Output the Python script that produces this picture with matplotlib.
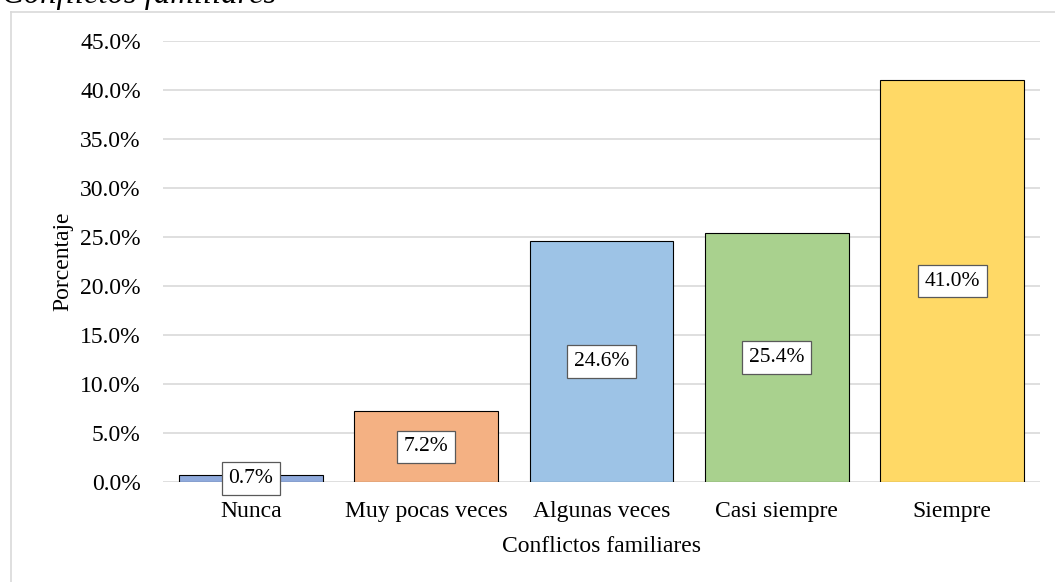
import matplotlib.pyplot as plt
from matplotlib.lines import Line2D

categorias = ['Nunca', 'Muy pocas veces', 'Algunas veces', 'Casi siempre', 'Siempre']
porcentajes = [0.7, 7.2, 24.6, 25.4, 41.0]
colores = ['#8FAADC', '#F4B183', '#9DC3E6', '#A9D18E', '#FFD966']
yticks = [0, 5, 10, 15, 20, 25, 30, 35, 40, 45]

plt.rcParams['font.family'] = ['Liberation Serif', 'DejaVu Serif']

fig = plt.figure(figsize=(10.55, 5.82), dpi=100)
ax = fig.add_axes([163/1055, 1 - 482/582, (1040 - 163)/1055, (482 - 41)/582])

x = range(len(categorias))
bars = ax.bar(x, porcentajes, width=0.82, color=colores, edgecolor='black',
              linewidth=0.8, zorder=3)

# etiquetas de datos en caja blanca
for b, v in zip(bars, porcentajes):
    ax.text(b.get_x() + b.get_width()/2, v/2, f'{v:.1f}%', ha='center', va='center',
            fontsize=15.5, zorder=4,
            bbox=dict(boxstyle='square,pad=0.31', facecolor='white',
                      edgecolor='#595959', linewidth=0.9))

ax.set_xlim(-0.5, len(categorias) - 0.5)
ax.set_ylim(0, 45)
ax.set_yticks(yticks)
ax.set_yticklabels([f'{t:.1f}%' for t in yticks])
ax.set_xticks(list(x))
ax.set_xticklabels(categorias)
ax.tick_params(axis='both', length=0, labelsize=17)
ax.tick_params(axis='y', pad=16)
ax.tick_params(axis='x', pad=13.5)
ax.grid(axis='y', color='#D9D9D9', linewidth=1.2, zorder=0)
for s in ax.spines.values():
    s.set_visible(False)

ax.set_xlabel('Conflictos familiares', fontsize=17, labelpad=10)
ax.set_ylabel('Porcentaje', fontsize=17, labelpad=5)

# marco del grafico (recortado)
fig.add_artist(Line2D([11/1055, 11/1055], [0, 1 - 12/582], color='#D9D9D9',
                      linewidth=1.2, transform=fig.transFigure))
fig.add_artist(Line2D([11/1055, 1], [1 - 12/582, 1 - 12/582], color='#D9D9D9',
                      linewidth=1.2, transform=fig.transFigure))

# titulo cortado arriba
fig.text(2/1055, 1 - 3/582, 'Conflictos familiares', fontsize=23.5, style='italic',
         ha='left', va='baseline')

fig.savefig('out.png', dpi=100)
